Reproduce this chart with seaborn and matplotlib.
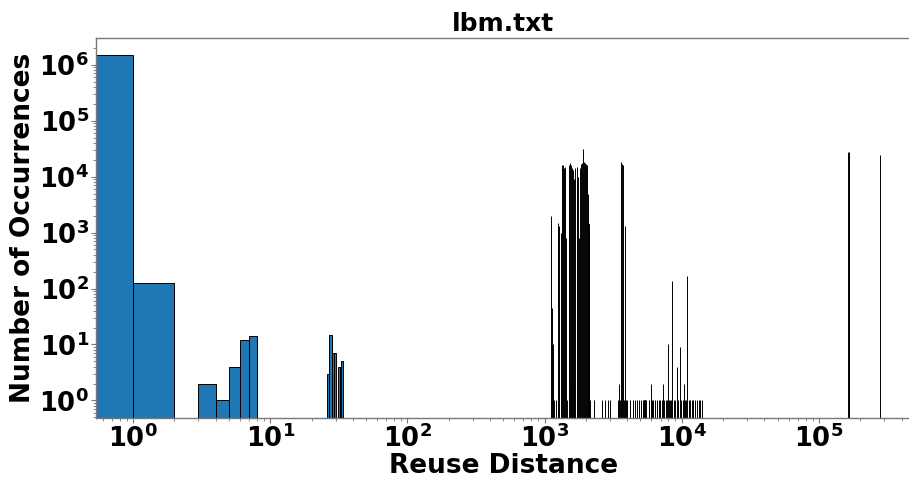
import numpy as np
import matplotlib
matplotlib.use("Agg")
import matplotlib.pyplot as plt
import seaborn as sns
import pandas as pd

# ---- data: reuse distance -> number of occurrences ----
small_dist = [0, 1, 3, 4, 5, 6, 7, 26, 27, 28, 29, 31, 32, 33]
small_count = [1470000, 128, 2, 1, 4, 12, 14, 3, 15, 7, 7, 4, 4, 5]

clusterA_dist = [1119, 1138, 1157, 1176, 1215, 1256, 1277, 1310, 1346, 1368,
                 1391, 1416, 1440, 1465, 1500, 1536, 1562, 1589, 1616, 1630,
                 1644, 1672, 1710, 1750, 1780, 1811, 1842, 1873, 1905, 1937,
                 1970, 2004, 2038, 2073, 2090, 2108, 2140]
clusterA_count = [2000, 45, 10, 1, 1, 1500, 1300, 1000, 16000, 16000,
                  14000, 15000, 800, 1, 16500, 17500, 16000, 14500, 13000, 2,
                  9000, 14000, 15000, 10000, 800, 14000, 17000, 17500, 31000, 18000,
                  17500, 17000, 16000, 5000, 1400, 1, 1]

sparse_dist = [2307, 2624, 2774, 2884, 3018, 3420, 3480, 3540, 3600, 3660,
               3720, 3790, 3850, 3920, 4020, 4222, 4417, 4590, 4720, 4850,
               5040, 5210, 5350, 5510, 5730, 5960, 6090, 6220, 6400, 6580,
               6770, 6960, 7160, 7290, 7450, 7620, 7790, 7910, 8030, 8230,
               8380, 8540, 8770, 8990, 9210, 9430, 9660, 9890, 10130, 10380,
               10620, 10800, 10990, 11250, 11520, 11800, 12150, 12510, 12880, 13270,
               13670, 14070]
sparse_count = [1, 1, 1, 1, 1, 1, 2, 1, 18000, 17000,
                16000, 1, 1300, 1, 1, 1, 1, 1, 1, 1,
                1, 1, 1, 1, 1, 2, 1, 1, 1, 1,
                1, 1, 1, 2, 1, 1, 1, 10, 1, 1,
                1, 135, 1, 1, 4, 1, 9, 1, 1, 2,
                1, 1, 166, 1, 1, 1, 1, 1, 1, 1,
                1, 1]

far_dist = [164000, 165600, 278800]
far_count = [28000, 27500, 24000]

title = "lbm.txt"
x_label = "Reuse Distance"
y_label = "Number of Occurrences"

dist = small_dist + clusterA_dist + sparse_dist + far_dist
count = small_count + clusterA_count + sparse_count + far_count
df = pd.DataFrame({"distance": dist, "count": count})

edges = sorted(set(dist) | set(d + 1 for d in dist))

plt.rcParams["font.family"] = ["DejaVu Sans"]
plt.rcParams["font.weight"] = "bold"

fig = plt.figure(figsize=(9.09, 4.79), dpi=100)
ax = fig.add_axes([96 / 909, 1 - 417.7 / 479, (910.5 - 96) / 909, (417.7 - 38.3) / 479])

sns.histplot(data=df, x="distance", weights="count", bins=edges, ax=ax,
             color="#1f77b4", edgecolor="black", linewidth=0.7, alpha=1.0)

ax.set_xscale("log")
ax.set_yscale("log")
ax.set_xlim(0.537, 465000)
ax.set_ylim(0.49, 2.98e6)

ax.set_title(title, fontsize=18, fontweight="bold", pad=5)
ax.set_xlabel(x_label, fontsize=19, fontweight="bold", labelpad=0)
ax.set_ylabel(y_label, fontsize=19, fontweight="bold", labelpad=2)

for side in ["left", "bottom", "top", "right"]:
    ax.spines[side].set_color("#777777")
    ax.spines[side].set_linewidth(1.0)

ax.tick_params(axis="both", which="major", labelsize=18.5, length=3.5, width=0.8, color="#777777", pad=1.5)
ax.tick_params(axis="both", which="minor", length=2, width=0.6, color="#777777")
for lab in ax.get_xticklabels() + ax.get_yticklabels():
    lab.set_fontweight("bold")

fig.savefig("out.png", dpi=100)
